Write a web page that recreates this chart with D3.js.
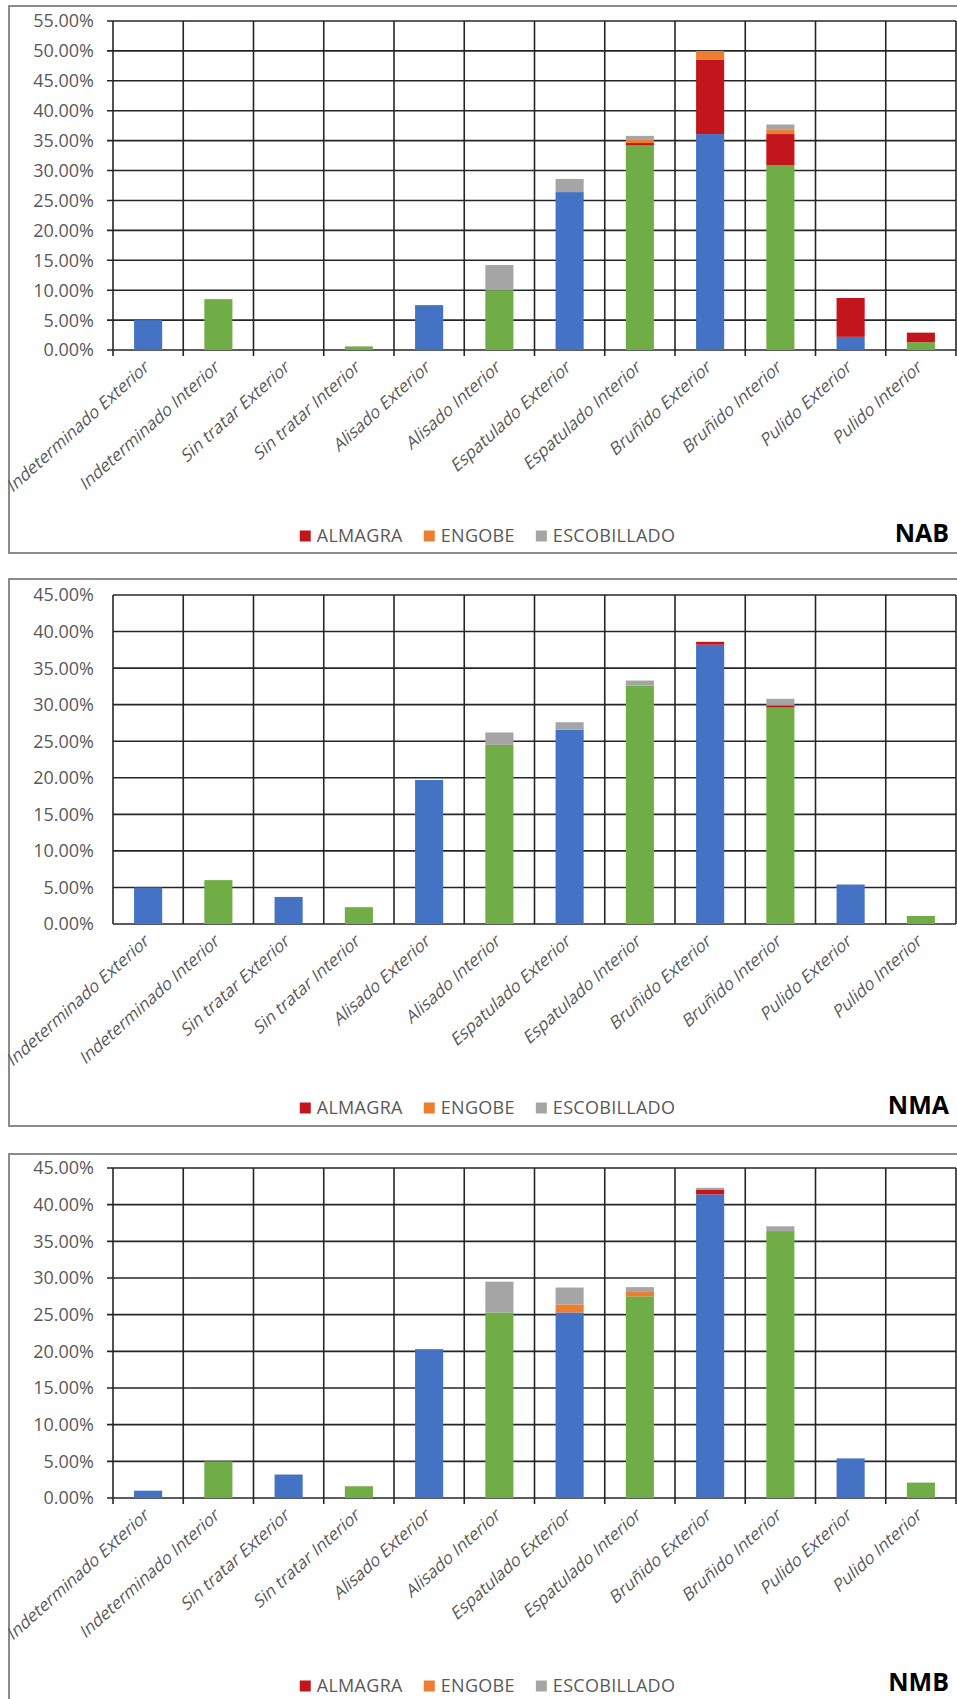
<!DOCTYPE html>
<html><head><meta charset="utf-8">
<script src="https://cdn.jsdelivr.net/npm/d3@7"></script>
<style>body{margin:0;background:#fff}svg{display:block}</style>
</head><body>
<svg id="c" width="957" height="1699"></svg>
<script>
const categories = ["Indeterminado Exterior","Indeterminado Interior","Sin tratar Exterior","Sin tratar Interior","Alisado Exterior","Alisado Interior","Espatulado Exterior","Espatulado Interior","Bruñido Exterior","Bruñido Interior","Pulido Exterior","Pulido Interior"];
const legendNames = ["ALMAGRA","ENGOBE","ESCOBILLADO"];
const panelNames = ["NAB","NMA","NMB"];
const yTicksNAB = [0,5,10,15,20,25,30,35,40,45,50,55];
const yTicksNMA = [0,5,10,15,20,25,30,35,40,45];
const yTicksNMB = [0,5,10,15,20,25,30,35,40,45];

// NAB (values in %)
const nabExterior    = [5.0,0,0,0,7.5,0,26.4,0,36.1,0,2.2,0];
const nabInterior    = [0,8.5,0,0.6,0,10.0,0,34.2,0,30.9,0,1.3];
const nabAlmagra     = [0,0,0,0,0,0,0,0.4,12.4,5.2,6.5,1.6];
const nabEngobe      = [0,0,0,0,0,0,0,0.6,1.5,0.8,0,0];
const nabEscobillado = [0,0,0,0,0,4.2,2.2,0.6,0,0.8,0,0];
// NMA
const nmaExterior    = [5.0,0,3.7,0,19.7,0,26.6,0,38.2,0,5.4,0];
const nmaInterior    = [0,6.0,0,2.3,0,24.5,0,32.6,0,29.6,0,1.1];
const nmaAlmagra     = [0,0,0,0,0,0,0,0,0.4,0.3,0,0];
const nmaEngobe      = [0,0,0,0,0,0,0,0,0,0,0,0];
const nmaEscobillado = [0,0,0,0,0,1.7,1.0,0.7,0,0.9,0,0];
// NMB
const nmbExterior    = [1.0,0,3.2,0,20.3,0,25.3,0,41.4,0,5.4,0];
const nmbInterior    = [0,5.0,0,1.6,0,25.3,0,27.5,0,36.4,0,2.1];
const nmbAlmagra     = [0,0,0,0,0,0,0,0,0.6,0,0,0];
const nmbEngobe      = [0,0,0,0,0,0,1.1,0.7,0,0,0,0];
const nmbEscobillado = [0,0,0,0,0,4.2,2.3,0.55,0.3,0.65,0,0];

const keys = ["exterior","interior","almagra","engobe","escobillado"];
const colors = {exterior:"#4472C4", interior:"#70AD47", almagra:"#C3161C", engobe:"#ED7D31", escobillado:"#A5A5A5"};

function rows(ext, int, alm, eng, esc){
  return categories.map((c,i)=>({cat:c, exterior:ext[i], interior:int[i], almagra:alm[i], engobe:eng[i], escobillado:esc[i]}));
}

const panels = [
  {name:panelNames[0], data:rows(nabExterior,nabInterior,nabAlmagra,nabEngobe,nabEscobillado), ticks:yTicksNAB,
   box:[6,553], plot:[21,350], legendY:536, nameY:533, tickExt:6},
  {name:panelNames[1], data:rows(nmaExterior,nmaInterior,nmaAlmagra,nmaEngobe,nmaEscobillado), ticks:yTicksNMA,
   box:[579,1126], plot:[595,924], legendY:1108, nameY:1105, tickExt:0},
  {name:panelNames[2], data:rows(nmbExterior,nmbInterior,nmbAlmagra,nmbEngobe,nmbEscobillado), ticks:yTicksNMB,
   box:[1154,1704], plot:[1168,1498], legendY:1686, nameY:1682, tickExt:6}
];

const svg = d3.select("#c");
const plotLeft = 113, plotRight = 956;
const font = "'Open Sans', 'DejaVu Sans', sans-serif";
const textColor = "#595959";
const gridColor = "#262626";

panels.forEach(p => {
  const g = svg.append("g");
  g.append("rect").attr("x",9).attr("y",p.box[0]).attr("width",960).attr("height",p.box[1]-p.box[0])
    .attr("fill","#fff").attr("stroke","#7f7f7f").attr("stroke-width",1.8);

  const x = d3.scaleBand().domain(categories).range([plotLeft, plotRight]).paddingInner(0.6).paddingOuter(0.3);
  const y = d3.scaleLinear().domain([0, d3.max(p.ticks)]).range([p.plot[1], p.plot[0]]);
  const step = x.step();

  g.append("g").selectAll("line").data(p.ticks).join("line")
    .attr("x1", plotLeft - p.tickExt).attr("x2", plotRight)
    .attr("y1", d=>y(d)).attr("y2", d=>y(d))
    .attr("stroke", gridColor).attr("stroke-width",1.6);
  const bounds = d3.range(categories.length+1).map(i => plotLeft + i*step);
  g.append("g").selectAll("line").data(bounds).join("line")
    .attr("x1", d=>d).attr("x2", d=>d)
    .attr("y1", p.plot[0]).attr("y2", p.plot[1] + p.tickExt)
    .attr("stroke", gridColor).attr("stroke-width",1.6);

  g.append("g").selectAll("text").data(p.ticks).join("text")
    .attr("x", 94).attr("y", d=>y(d)).attr("dy","0.36em")
    .attr("text-anchor","end").attr("font-family",font).attr("font-size",18)
    .attr("fill",textColor).text(d=>d3.format(".2f")(d)+"%");

  const series = d3.stack().keys(keys)(p.data);
  g.append("g").selectAll("g").data(series).join("g")
    .attr("fill", s=>colors[s.key])
    .selectAll("rect").data(s=>s.filter(d=>d[1]-d[0]>0)).join("rect")
      .attr("x", d=>x(d.data.cat)).attr("width", x.bandwidth())
      .attr("y", d=>y(d[1])).attr("height", d=>y(d[0])-y(d[1]));

  g.append("g").selectAll("text").data(categories).join("text")
    .attr("transform", d=>`translate(${x(d)+x.bandwidth()/2-1},${p.plot[1]+14}) rotate(-42) skewX(-14)`)
    .attr("text-anchor","end").attr("dy","0.35em")
    .attr("font-family",font).attr("font-size",17).attr("fill",textColor).text(d=>d);

  const lg = g.append("g");
  const items = legendNames.map((n,i)=>({name:n, key:keys[i+2]}));
  let cx = 0;
  const tmp = [];
  items.forEach(it=>{
    const t = lg.append("text").attr("font-family",font).attr("font-size",18).attr("letter-spacing",0.3)
      .attr("fill",textColor).attr("dy","0.35em").attr("y",p.legendY).text(it.name);
    const w = t.node().getComputedTextLength();
    tmp.push({it,t,w,offset:cx});
    cx += 11 + 6 + w + 21;
  });
  const total = cx - 21;
  const startX = 487.5 - total/2;
  tmp.forEach(o=>{
    lg.append("rect").attr("x", startX+o.offset).attr("y", p.legendY-5.5).attr("width",11).attr("height",11)
      .attr("fill", colors[o.it.key]);
    o.t.attr("x", startX+o.offset+17);
  });

  g.append("text").attr("x",949).attr("y",p.nameY).attr("dy","0.35em").attr("text-anchor","end")
    .attr("font-family",font).attr("font-weight","bold").attr("font-size",25).attr("fill","#000").text(p.name);
});
</script>
</body></html>
